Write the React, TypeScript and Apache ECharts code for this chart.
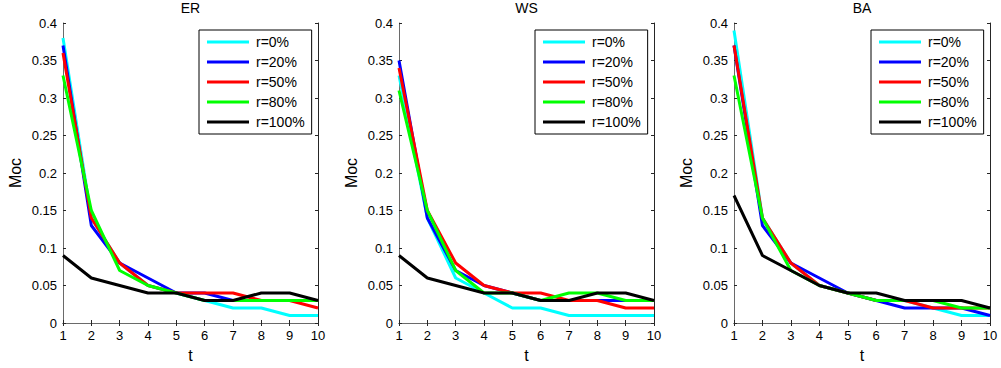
import React, { useEffect, useRef } from "react";
import * as echarts from "echarts";

const tValues = [1, 2, 3, 4, 5, 6, 7, 8, 9, 10];
const seriesNames = ["r=0%", "r=20%", "r=50%", "r=80%", "r=100%"];
const seriesColors = ["#00ffff", "#0000ff", "#ff0000", "#00ff00", "#000000"];
const panelTitles = ["ER", "WS", "BA"];

const erR0 = [0.38, 0.14, 0.08, 0.05, 0.04, 0.03, 0.02, 0.02, 0.01, 0.01];
const erR20 = [0.37, 0.13, 0.08, 0.06, 0.04, 0.04, 0.03, 0.03, 0.03, 0.03];
const erR50 = [0.36, 0.14, 0.08, 0.05, 0.04, 0.04, 0.04, 0.03, 0.03, 0.02];
const erR80 = [0.33, 0.15, 0.07, 0.05, 0.04, 0.03, 0.03, 0.03, 0.03, 0.03];
const erR100 = [0.09, 0.06, 0.05, 0.04, 0.04, 0.03, 0.03, 0.04, 0.04, 0.03];

const wsR0 = [0.33, 0.14, 0.06, 0.04, 0.02, 0.02, 0.01, 0.01, 0.01, 0.01];
const wsR20 = [0.35, 0.14, 0.07, 0.05, 0.04, 0.03, 0.03, 0.03, 0.03, 0.03];
const wsR50 = [0.34, 0.15, 0.08, 0.05, 0.04, 0.04, 0.03, 0.03, 0.02, 0.02];
const wsR80 = [0.31, 0.15, 0.07, 0.04, 0.04, 0.03, 0.04, 0.04, 0.03, 0.03];
const wsR100 = [0.09, 0.06, 0.05, 0.04, 0.04, 0.03, 0.03, 0.04, 0.04, 0.03];

const baR0 = [0.39, 0.14, 0.08, 0.05, 0.04, 0.03, 0.03, 0.02, 0.01, 0.01];
const baR20 = [0.37, 0.13, 0.08, 0.06, 0.04, 0.03, 0.02, 0.02, 0.02, 0.01];
const baR50 = [0.37, 0.14, 0.08, 0.05, 0.04, 0.03, 0.03, 0.02, 0.02, 0.02];
const baR80 = [0.33, 0.14, 0.07, 0.05, 0.04, 0.03, 0.03, 0.03, 0.02, 0.02];
const baR100 = [0.17, 0.09, 0.07, 0.05, 0.04, 0.04, 0.03, 0.03, 0.03, 0.02];

const panelData = [
  [erR0, erR20, erR50, erR80, erR100],
  [wsR0, wsR20, wsR50, wsR80, wsR100],
  [baR0, baR20, baR50, baR80, baR100],
];

const FONT = "'Liberation Sans', Arial, sans-serif";
const gridLefts = [63, 399, 734];
const gridWidths = [255, 255, 256];
const legendLefts = [199, 535, 871];
const GRID_TOP = 23;
const GRID_H = 304;
const LIGHT = "#6a6a6a";
const DARK = "#262626";

export default function App() {
  const ref = useRef<HTMLDivElement>(null);
  useEffect(() => {
    if (!ref.current) return;
    const chart = echarts.init(ref.current, undefined, { renderer: "svg" });
    const grid: any[] = [];
    const xAxis: any[] = [];
    const yAxis: any[] = [];
    const series: any[] = [];
    const legend: any[] = [];
    const graphic: any[] = [];
    panelTitles.forEach((title, p) => {
      grid.push({ left: gridLefts[p], top: GRID_TOP, width: gridWidths[p], height: GRID_H, containLabel: false });
      const tickCommon = { show: true, inside: true, length: 3 };
      // bottom x
      xAxis.push({
        type: "value", gridIndex: p, position: "bottom", min: 1, max: 10, interval: 1,
        axisLine: { lineStyle: { color: DARK, width: 1 } },
        axisTick: { ...tickCommon, lineStyle: { color: DARK } },
        axisLabel: { color: "#000", fontSize: 13, fontFamily: FONT, margin: 6 },
        splitLine: { show: false },
        name: "t", nameLocation: "middle", nameGap: 24,
        nameTextStyle: { color: "#000", fontSize: 16, fontFamily: FONT },
      });
      // top x
      xAxis.push({
        type: "value", gridIndex: p, position: "top", min: 1, max: 10, interval: 1,
        axisLine: { lineStyle: { color: LIGHT, width: 1 } },
        axisTick: { ...tickCommon, lineStyle: { color: DARK } },
        axisLabel: { show: false },
        splitLine: { show: false },
      });
      // left y
      yAxis.push({
        type: "value", gridIndex: p, position: "left", min: 0, max: 0.4, interval: 0.05,
        axisLine: { show: true, lineStyle: { color: LIGHT, width: 1 } },
        axisTick: { ...tickCommon, lineStyle: { color: DARK } },
        axisLabel: { color: "#000", fontSize: 13, fontFamily: FONT, margin: 6 },
        splitLine: { show: false },
        name: "Moc", nameLocation: "middle", nameGap: 40, nameRotate: 90,
        nameTextStyle: { color: "#000", fontSize: 16, fontFamily: FONT },
      });
      // right y
      yAxis.push({
        type: "value", gridIndex: p, position: "right", min: 0, max: 0.4, interval: 0.05,
        axisLine: { show: true, lineStyle: { color: DARK, width: 1 } },
        axisTick: { ...tickCommon, lineStyle: { color: DARK } },
        axisLabel: { show: false },
        splitLine: { show: false },
      });
      panelData[p].forEach((vals, i) => {
        series.push({
          type: "line",
          name: seriesNames[i],
          xAxisIndex: p * 2,
          yAxisIndex: p * 2,
          data: tValues.map((t, k) => [t, vals[k]]),
          symbol: "none",
          color: seriesColors[i],
          lineStyle: { color: seriesColors[i], width: 3 },
          itemStyle: { color: seriesColors[i] },
        });
      });
      legend.push({
        data: seriesNames,
        orient: "vertical",
        left: legendLefts[p],
        top: 30,
        icon: "rect",
        itemWidth: 42,
        itemHeight: 3,
        itemGap: 6,
        padding: [5, 7, 5, 8],
        borderColor: "#000",
        borderWidth: 1,
        backgroundColor: "#fff",
        selectedMode: false,
        textStyle: { color: "#000", fontSize: 14, fontFamily: FONT, padding: [0, 0, 0, 2] },
      });
      graphic.push({
        type: "text",
        x: gridLefts[p] + gridWidths[p] / 2,
        y: 8,
        style: { text: title, fontSize: 14, fontFamily: FONT, fill: "#000", textAlign: "center", textVerticalAlign: "middle" },
      });
    });
    chart.setOption({
      animation: false,
      backgroundColor: "#fff",
      grid, xAxis, yAxis, series, legend, graphic,
    });
    return () => chart.dispose();
  }, []);
  return <div ref={ref} style={{ position: "fixed", left: 0, top: 0, width: 1001, height: 368, background: "#fff" }} />;
}
